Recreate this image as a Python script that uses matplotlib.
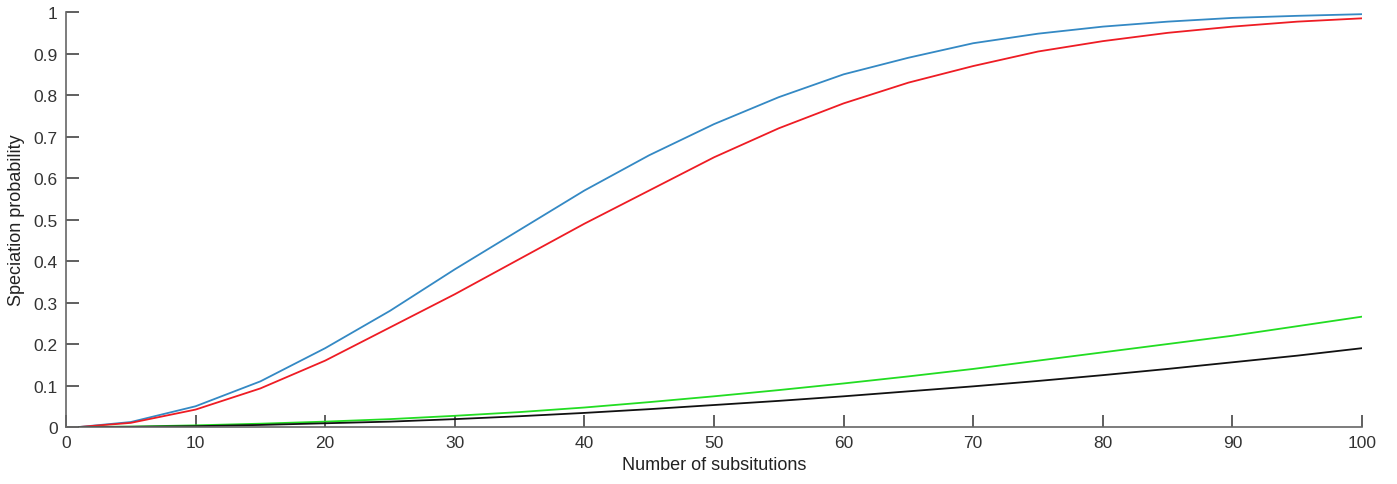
import numpy as np
import matplotlib
matplotlib.use("Agg")
import matplotlib.pyplot as plt

plt.rcParams['font.family'] = ['Liberation Sans', 'DejaVu Sans']

# substitutions
x = [1, 5, 10, 15, 20, 25, 30, 35, 40, 45, 50, 55, 60, 65, 70, 75, 80, 85, 90, 95, 100]
# speciation probability
blue = [0, 0.012, 0.05, 0.11, 0.19, 0.28, 0.38, 0.475, 0.57, 0.655, 0.73, 0.795,
        0.85, 0.89, 0.925, 0.948, 0.965, 0.977, 0.986, 0.991, 0.995]
red = [0, 0.01, 0.042, 0.093, 0.16, 0.24, 0.32, 0.405, 0.49, 0.57, 0.65, 0.72,
       0.78, 0.83, 0.87, 0.905, 0.93, 0.95, 0.965, 0.977, 0.985]
green = [0, 0.001, 0.004, 0.008, 0.013, 0.019, 0.027, 0.036, 0.047, 0.06, 0.074,
         0.089, 0.105, 0.122, 0.14, 0.16, 0.18, 0.2, 0.22, 0.243, 0.266]
black = [0, 0.0005, 0.002, 0.005, 0.009, 0.013, 0.019, 0.026, 0.034, 0.043, 0.053,
         0.063, 0.074, 0.086, 0.098, 0.111, 0.125, 0.14, 0.156, 0.172, 0.19]

xticks = np.arange(0, 101, 10)
yticks = np.arange(0, 1.01, 0.1)
ylabels = ['0'] + ['%.1f' % v for v in yticks[1:-1]] + ['1']

fig = plt.figure(figsize=(13.97, 4.85), dpi=100)
ax = fig.add_axes([0.0472, 0.1175, 0.9278, 0.8555])

ax.plot(x, blue, color='#3489c4', lw=1.3)
ax.plot(x, red, color='#ee1c24', lw=1.3)
ax.plot(x, green, color='#22dd22', lw=1.3)
ax.plot(x, black, color='#111111', lw=1.3)

ax.set_xlim(0, 100)
ax.set_ylim(0, 1)
ax.set_xticks(xticks)
ax.set_yticks(yticks)
ax.set_yticklabels(ylabels)

for s in ['top', 'right']:
    ax.spines[s].set_visible(False)
for s in ['left', 'bottom']:
    ax.spines[s].set_color('#666666')
    ax.spines[s].set_linewidth(1.2)

ax.tick_params(direction='in', length=9, width=1.2, color='#444444',
               labelsize=12.5, labelcolor='#333333', pad=6)
ax.set_xlabel('Number of subsitutions', fontsize=13, color='#222222', labelpad=4)
ax.set_ylabel('Speciation probability', fontsize=13, color='#222222', labelpad=6)

fig.savefig('out.png', dpi=100)
